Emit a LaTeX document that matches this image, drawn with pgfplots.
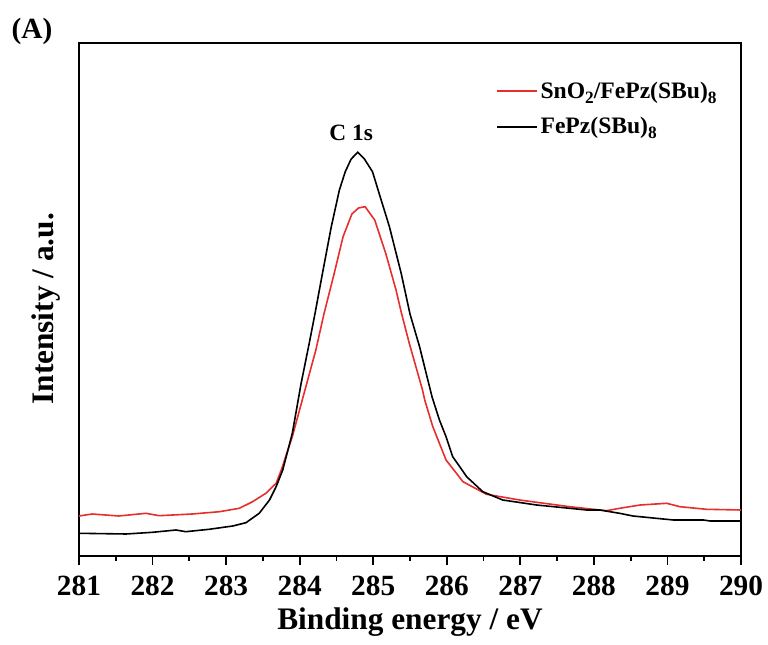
\documentclass[border=0pt]{standalone}
\usepackage{pgfplots}
\pgfplotsset{compat=1.18}
\usepackage{fontspec}
\setmainfont{Liberation Serif}
\definecolor{myred}{RGB}{232,45,45}
\newcommand{\sub}[1]{\raisebox{-0.45ex}{\fontsize{13}{13}\selectfont #1}}
\begin{document}
\begin{tikzpicture}
\begin{axis}[
  at={(0,0)}, anchor=south west,
  scale only axis,
  width=496.5pt, height=384.75pt,
  xmin=281, xmax=290, ymin=0, ymax=513,
  xtick={281,...,290},
  minor x tick num=1,
  ytick=\empty,
  axis line style={line width=1.5pt},
  every tick/.style={black, line width=1.3pt},
  tick align=outside,
  major tick length=6.75pt,
  minor tick length=3.75pt,
  xtick pos=bottom,
  /pgf/number format/assume math mode=true,
  /pgf/number format/1000 sep={},
  tick label style={font=\bfseries\fontsize{22}{22}\selectfont},
  xticklabel style={yshift=-5pt},
  xlabel={Binding energy / eV},
  ylabel={Intensity / a.u.},
  label style={font=\bfseries\fontsize{23.5}{24}\selectfont},
  xlabel style={yshift=-2pt},
  ylabel style={yshift=4pt, xshift=-7pt},
  legend cell align=left,
  legend style={draw=none, fill=none, at={(0.63,0.93)}, anchor=north west,
    font=\bfseries\fontsize{17.7}{20}\selectfont, row sep=9pt, inner sep=0pt},
  legend image code/.code={\draw[#1, line width=1.2pt] (0pt,0pt) -- (30pt,0pt);},
  clip=false,
]
\addplot[myred, line width=1.2pt] coordinates {
(281.00,40) (281.18,42) (281.54,40) (281.91,42.7) (282.09,40.3) (282.54,42)
(282.91,44.3) (283.18,47.7) (283.36,54.3) (283.54,62.7) (283.68,72.7)
(283.75,86) (283.90,119.3) (284.06,162.7) (284.22,206) (284.33,242)
(284.47,282.7) (284.59,319.3) (284.71,342) (284.80,348) (284.89,349.3)
(285.02,336) (285.17,302.7) (285.31,266) (285.38,244) (285.49,212.7)
(285.67,166) (285.70,156) (285.81,129.3) (285.99,96) (286.22,74.3)
(286.54,61.7) (286.99,56) (287.67,49.3) (288.17,45.3) (288.35,47.7)
(288.63,51) (288.99,52.7) (289.17,49.3) (289.53,46.7) (290.0,46)
};
\addlegendentry{SnO\sub{2}/FePz(SBu)\sub{8}}
\addplot[black, line width=1.2pt] coordinates {
(281.00,22.7) (281.64,22) (282.00,23.7) (282.32,26) (282.45,24.3) (282.77,26.7)
(283.09,30) (283.27,33.3) (283.45,42.7) (283.59,56) (283.68,69.3) (283.77,86)
(283.90,122.7) (284.02,172.7) (284.13,212.7) (284.21,243) (284.31,282.7)
(284.43,329.3) (284.54,366) (284.62,384.3) (284.70,397) (284.79,403.7)
(284.88,397) (284.99,384.3) (285.08,362.7) (285.22,329.3) (285.38,282.7)
(285.50,242) (285.63,209.3) (285.80,159) (285.90,136) (285.99,119.3)
(286.08,99.3) (286.17,90) (286.27,79.3) (286.49,64.3) (286.76,56) (287.22,51)
(287.90,46) (288.08,46) (288.35,42.7) (288.53,40) (289.08,36) (289.49,36)
(289.58,35) (290.0,35)
};
\addlegendentry{FePz(SBu)\sub{8}}
\node[font=\bfseries\fontsize{17.5}{20}\selectfont] at (axis cs:284.70,423) {C 1s};
\node[font=\bfseries\fontsize{22}{22}\selectfont] at (rel axis cs:-0.071,1.022) {(A)};
\end{axis}
\useasboundingbox (-59.25pt,-66.75pt) rectangle (516.75pt,417pt);
\end{tikzpicture}
\end{document}
